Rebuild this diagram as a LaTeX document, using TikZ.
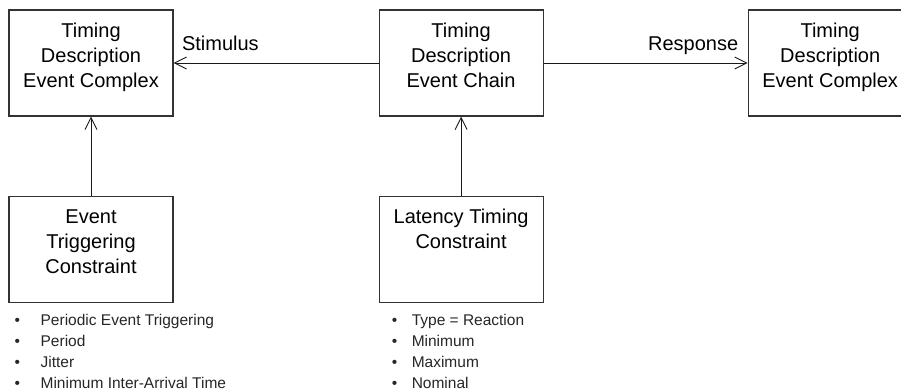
\documentclass[tikz,border=0pt]{standalone}
\usepackage{fontspec}
\setmainfont{Liberation Sans}
\usepackage{tikz}
\usetikzlibrary{arrows.meta,positioning}
\definecolor{tdgray}{HTML}{333333}
\newcommand{\boxlines}[1]{\parbox[c][106pt][t]{164pt}{\centering\rule{0pt}{27pt}#1}}
\newcommand{\itm}[2][26pt]{\makebox[#1][l]{\textbullet}#2}
\tikzset{
  box/.style={draw=tdgray, line width=1.1pt, inner sep=0pt, minimum width=164pt, minimum height=106pt, font=\fontsize{20pt}{25pt}\selectfont},
  bullets/.style={align=left, inner sep=0pt, font=\fontsize{15.5pt}{21pt}\selectfont, text=black!85},
  lbl/.style={inner sep=0pt, font=\fontsize{20pt}{25pt}\selectfont},
  line/.style={-{Straight Barb[length=12pt,width=12pt]}, line width=0.9pt, draw=black!90}
}
\begin{document}
\begin{tikzpicture}
  \useasboundingbox (0,0) rectangle (901pt,-391pt);
  \node[box] (tdec) at (91pt,-63pt) {\boxlines{Timing\\Description\\Event Complex}};
  \node[box, right=205pt of tdec] (chain) {\boxlines{Timing\\Description\\Event Chain}};
  \node[box, right=204pt of chain] (tdecr) {\boxlines{Timing\\Description\\Event Complex}};
  \node[box, below=79pt of tdec] (etc) {\boxlines{Event\\Triggering\\Constraint}};
  \node[box, below=79pt of chain] (ltc) {\boxlines{Latency Timing\\Constraint}};

  \node[bullets, below right=11.5pt and 6pt of etc.south west] (etclist)
    {\itm{Periodic Event Triggering}\\\itm{Period}\\\itm{Jitter}\\\itm{Minimum Inter-Arrival Time}};
  \node[bullets, below right=11.5pt and 13pt of ltc.south west] (ltclist)
    {\itm[20pt]{Type = Reaction}\\\itm[20pt]{Minimum}\\\itm[20pt]{Maximum}\\\itm[20pt]{Nominal}};

  \draw[line] (chain) -- (tdec)
    node[lbl, pos=1, anchor=base west, xshift=8pt, yshift=13pt] {Stimulus};
  \draw[line] (chain) -- (tdecr)
    node[lbl, pos=1, anchor=base east, xshift=-9pt, yshift=13pt] {Response};
  \draw[line] (etc) -- (tdec);
  \draw[line] (ltc) -- (chain);
\end{tikzpicture}
\end{document}
